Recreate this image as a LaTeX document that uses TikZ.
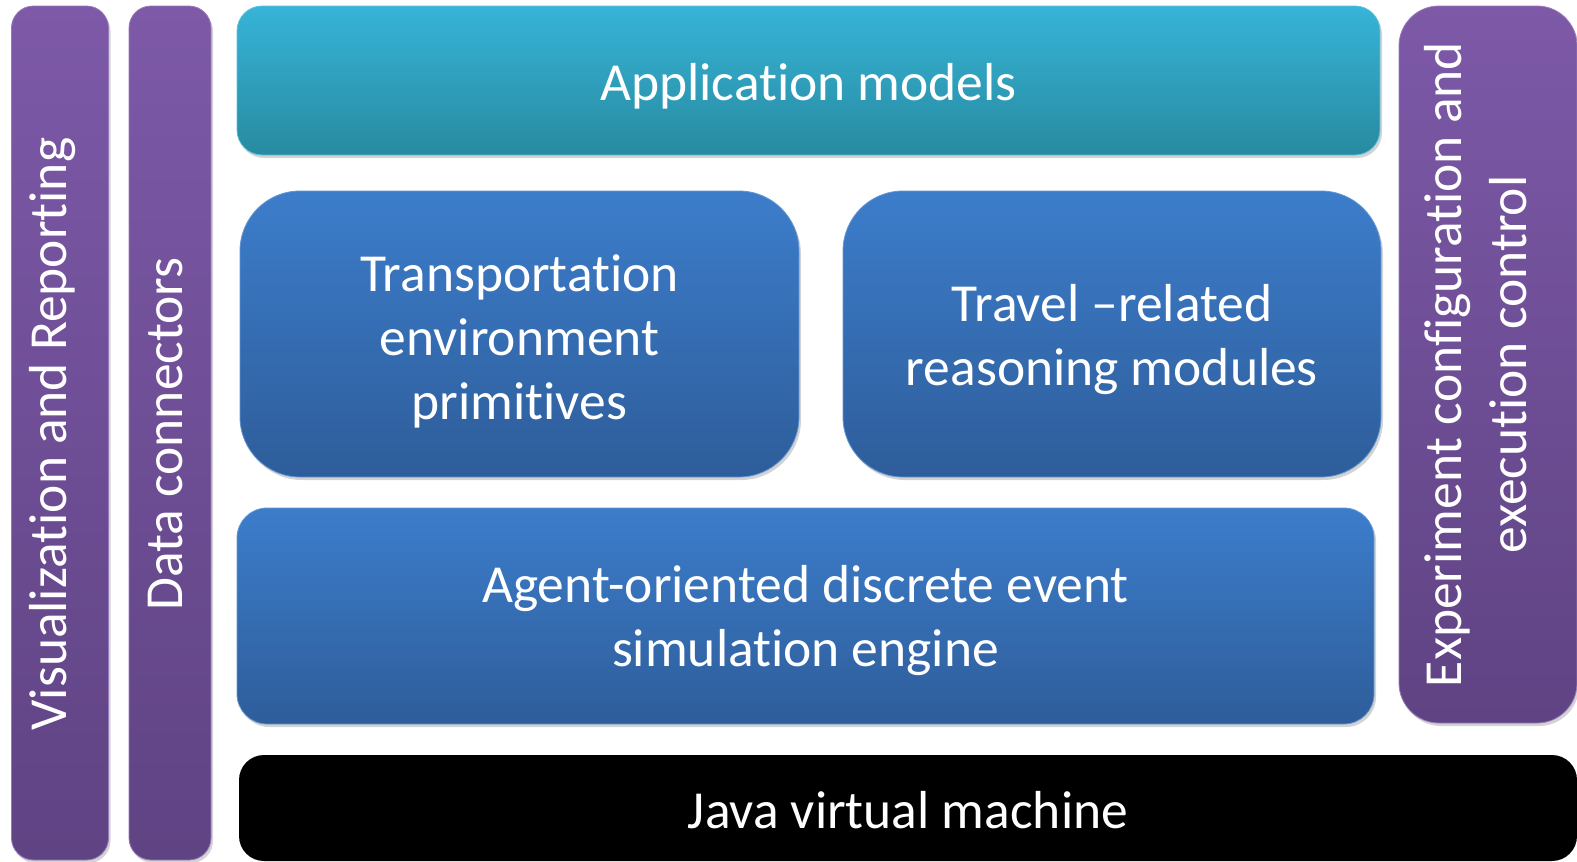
\documentclass[tikz,border=0pt]{standalone}
\usepackage{fontspec}
\setmainfont[RawFeature=-liga]{Carlito}
\usetikzlibrary{shadows}
\definecolor{purT}{HTML}{7D59A8}
\definecolor{purB}{HTML}{5F4383}
\definecolor{bluT}{HTML}{3C7DCB}
\definecolor{bluB}{HTML}{2E5D9A}
\definecolor{cyaT}{HTML}{36B4D8}
\definecolor{cyaB}{HTML}{288AA0}
\tikzset{
  x=1pt, y=-1pt,
  lbl/.style={inner sep=0pt, text=white, align=center,
    font=\fontsize{53.5}{64}\selectfont},
  base/.style={inner sep=0pt,
    drop shadow={opacity=0.35, shadow xshift=2pt, shadow yshift=-3pt}},
  purbox/.style={base, rectangle, rounded corners=22pt, top color=purT, bottom color=purB, draw=purT!80!white, line width=0.8pt},
  blubox/.style={base, rectangle, top color=bluT, bottom color=bluB, draw=bluT!80!white, line width=0.8pt},
  cyabox/.style={base, rectangle, rounded corners=25pt, top color=cyaT, bottom color=cyaB, draw=cyaT!80!white, line width=0.8pt},
  blkbox/.style={inner sep=0pt, rectangle, rounded corners=25pt, fill=black},
}
\begin{document}
\begin{tikzpicture}
\useasboundingbox (0,0) rectangle (1577,862);
\node[purbox, minimum width=97pt, minimum height=854pt] (vis) at (60,433) {};
\node[lbl, rotate=90] (vist) at (52.3,434) {Visualization and Reporting};
\node[purbox, minimum width=82pt, minimum height=854pt] (dat) at (170,433) {};
\node[lbl, rotate=90] (datt) at (166,434) {Data connectors};
\node[cyabox, minimum width=1143pt, minimum height=149pt] (app) at (808.5,80.5) {};
\node[lbl] (appt) at (808.5,86.5) {Application models};
\node[blubox, rounded corners=60pt, minimum width=559pt, minimum height=286pt] (tra) at (519.5,334) {};
\node[lbl] (trat) at (519.5,341) {Transportation\\environment\\primitives};
\node[blubox, rounded corners=60pt, minimum width=538pt, minimum height=286pt] (trv) at (1112,334) {};
\node[lbl] (trvt) at (1112,340) {Travel --related\\reasoning modules};
\node[blubox, rounded corners=30pt, minimum width=1137pt, minimum height=216pt] (age) at (805.5,616) {};
\node[lbl] (aget) at (805.5,620.5) {Agent-oriented discrete event\\simulation engine};
\node[purbox, rounded corners=40pt, minimum width=178pt, minimum height=717pt] (exp) at (1488,364.5) {};
\node[lbl, rotate=90, font=\fontsize{53.5}{65}\selectfont] (expt) at (1475.5,364.5) {Experiment configuration and\\execution control};
\node[blkbox, minimum width=1338pt, minimum height=106pt] (jvm) at (908,808) {};
\node[lbl] (jvmt) at (908,810) {Java virtual machine};
\end{tikzpicture}
\end{document}
